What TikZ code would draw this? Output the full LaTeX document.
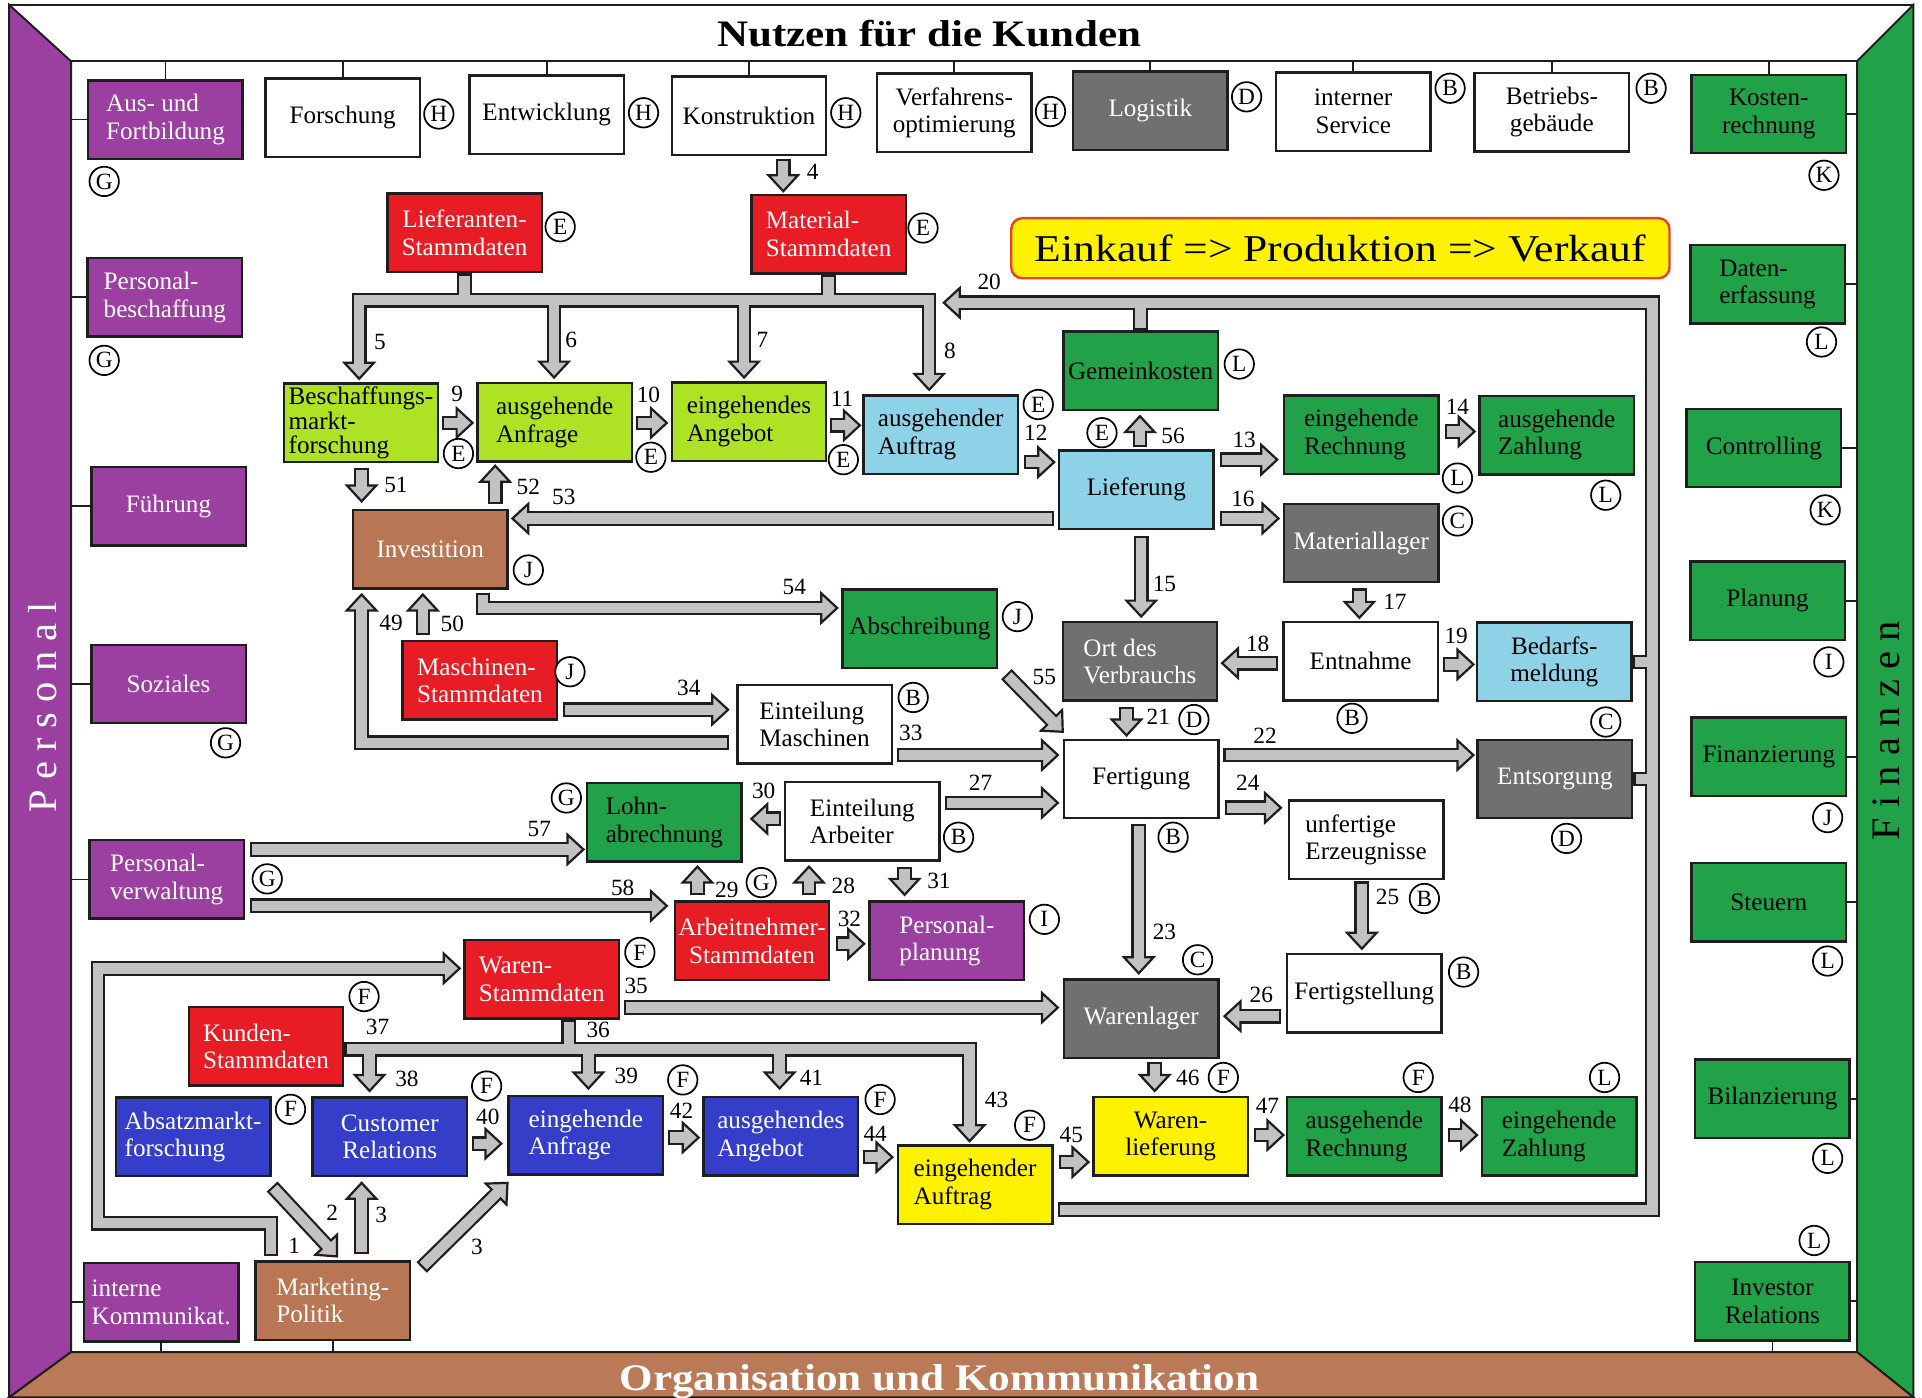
\documentclass[tikz,border=0pt]{standalone}
\usepackage{fontspec}
\setmainfont{Liberation Serif}
\newfontfamily\ttlfont{Liberation Serif}[FakeStretch=1.15]
\usetikzlibrary{calc}
\definecolor{cpurple}{RGB}{155,64,160}
\definecolor{cgreen}{RGB}{34,162,72}
\definecolor{clime}{RGB}{174,226,36}
\definecolor{clblue}{RGB}{142,210,232}
\definecolor{cred}{RGB}{232,28,36}
\definecolor{cbrown}{RGB}{184,118,84}
\definecolor{cband}{RGB}{186,122,88}
\definecolor{cdgray}{RGB}{112,112,112}
\definecolor{cblue}{RGB}{52,62,200}
\definecolor{cyellow}{RGB}{255,242,0}
\definecolor{agray}{RGB}{194,194,194}
\definecolor{cline}{RGB}{30,30,30}
\definecolor{corange}{RGB}{226,70,30}
\newcommand\boxfont{\fontsize{20.5}{22.5}\selectfont}
\tikzset{
  bx/.style={draw=cline, line width=2pt, minimum width=126pt, minimum height=64pt, inner xsep=1pt, inner ysep=2pt, font=\boxfont, align=center},
  wh/.style={bx, fill=white},
  pu/.style={bx, fill=cpurple, text=white},
  gr/.style={bx, fill=cgreen, text=black},
  li/.style={bx, fill=clime},
  lb/.style={bx, fill=clblue},
  rd/.style={bx, fill=cred, text=white},
  br/.style={bx, fill=cbrown, text=white},
  dg/.style={bx, fill=cdgray, text=white},
  bl/.style={bx, fill=cblue, text=white},
  ye/.style={bx, fill=cyellow},
  lft/.style={align=left},
  cl/.style={circle, draw=black, line width=1.4pt, fill=white, minimum size=24pt, inner sep=0pt, font=\fontsize{19}{19}\selectfont},
  num/.style={inner sep=0pt, font=\fontsize{19}{19}\selectfont},
  cn/.style={draw=cline, line width=1.6pt},
  shB/.style={line width=12pt, draw=cline, line join=miter, line cap=butt},
  shG/.style={line width=8.4pt, draw=agray, line join=miter, line cap=butt},
  hd/.style={fill=agray, draw=cline, line width=1.8pt, line join=miter},
}
\newcommand\ahead[2]{%
  \coordinate (ae) at #1; \coordinate (ap) at #2;
  \coordinate (ahB) at ($(ae)!13pt!(ap)$);
  \filldraw[hd] ($(ahB)!12pt!90:(ae)$) -- (ae) -- ($(ahB)!12pt!-90:(ae)$) -- cycle;}
\newcommand\parrow[3]{%
  \coordinate (ap) at #2; \coordinate (ae) at #3;
  \coordinate (ahB) at ($(ae)!13pt!(ap)$);
  \coordinate (ahG) at ($(ae)!11pt!(ap)$);
  \draw[shB] #1 -- (ahB);
  \filldraw[hd] ($(ahB)!12pt!90:(ae)$) -- (ae) -- ($(ahB)!12pt!-90:(ae)$) -- cycle;
  \draw[shG, shorten <=1.8pt] #1 -- (ahG);}
\newcommand\sarrow[2]{\parrow{#1}{#1}{#2}}
\begin{document}
\begin{tikzpicture}[x=1pt,y=-1pt]
\fill[white] (0,0) rectangle (1568,1140);
\useasboundingbox (0,0) rectangle (1568,1140);
% frame
\draw[cn] (7.5,4) -- (1561,4);
\draw[cn] (58,50) -- (1515,50);
\filldraw[fill=cpurple, draw=cline, line width=1.6pt] (7.5,4) -- (58,50) -- (58,1103) -- (7.5,1140) -- cycle;
\filldraw[fill=cgreen, draw=cline, line width=1.6pt] (1561,4) -- (1561,1140) -- (1515,1103) -- (1515,50) -- cycle;
\filldraw[fill=cband, draw=cline, line width=1.6pt] (58,1103) -- (1515,1103) -- (1561,1140) -- (7.5,1140) -- cycle;
\coordinate (topline) at (0,50);
\coordinate (leftline) at (58,0);
\coordinate (rightline) at (1515,0);
\coordinate (botline) at (0,1103);
\node[font=\ttlfont\bfseries\fontsize{30.5}{34}\selectfont, anchor=base] (ttop) at (758,38) {Nutzen für die Kunden};
\node[font=\ttlfont\bfseries\fontsize{30.6}{34}\selectfont, text=white, anchor=base] (tbot) at (766.5,1134) {Organisation und Kommunikation};
\node[rotate=90, text=white, font=\fontsize{33}{33}\selectfont] (tpers) at (34.5,577) {P e r s o n a l};
\node[rotate=90, text=black, font=\fontsize{33}{33}\selectfont] (tfin) at (1538.5,596) {F i n a n z e n};

% top row
\node[pu, lft] (ausfort) at (135,97.5) {Aus- und\\Fortbildung};
\node[wh] (forsch) at (279.5,96) {Forschung};
\node[wh] (entw) at (446,93.5) {Entwicklung};
\node[wh] (konstr) at (611,94.5) {Konstruktion};
\node[wh] (verf) at (778.5,92) {Verfahrens-\\optimierung};
\node[dg] (logist) at (938.5,90.5) {Logistik};
\node[wh] (intserv) at (1104,91) {interner\\Service};
\node[wh] (betrgeb) at (1266,91.5) {Betriebs-\\gebäude};
\node[gr] (kostenr) at (1443,93) {Kosten-\\rechnung};
% left column
\node[pu, lft] (persbesch) at (134.5,242.5) {Personal-\\beschaffung};
\node[pu] (fuehr) at (137.5,413) {Führung};
\node[pu] (soz) at (137.5,558) {Soziales};
\node[pu, lft] (persverw) at (136,717.5) {Personal-\\verwaltung};
\node[pu, lft] (intkomm) at (131.5,1062.5) {interne\\Kommunikat.};
\node[br, lft] (marketing) at (271.5,1061) {Marketing-\\Politik};
% right column
\node[gr, lft] (datenerf) at (1442,232) {Daten-\\erfassung};
\node[gr] (controlling) at (1439,365.5) {Controlling};
\node[gr] (planung) at (1442,490) {Planung};
\node[gr] (finanz) at (1443,617.5) {Finanzierung};
\node[gr] (steuern) at (1443,736) {Steuern};
\node[gr] (bilanz) at (1446,896.5) {Bilanzierung};
\node[gr] (investor) at (1446,1061.5) {Investor\\Relations};
% connection lines
\foreach \n in {ausfort,forsch,entw,konstr,verf,logist,intserv,betrgeb,kostenr}
  \draw[cn] (\n.north) -- (\n.north |- topline);
\foreach \n in {ausfort,persbesch,fuehr,soz,persverw,intkomm}
  \draw[cn] (\n.west) -- (\n.west -| leftline);
\foreach \n in {kostenr,datenerf,controlling,planung,finanz,steuern,bilanz,investor}
  \draw[cn] (\n.east) -- (\n.east -| rightline);
\foreach \n in {intkomm,marketing,investor}
  \draw[cn] (\n.south) -- (\n.south |- botline);

% process
\node[draw=corange, line width=2pt, fill=cyellow, rounded corners=9pt, minimum width=537pt, minimum height=49pt, inner sep=0pt, font=\ttlfont\fontsize{30.9}{34}\selectfont] (ekv) at (1093.5,202.5) {Einkauf => Produktion => Verkauf};
\node[rd] (lieferant) at (379,190) {Lieferanten-\\Stammdaten};
\node[rd, lft] (material) at (676,191) {Material-\\Stammdaten};
\node[li, lft, font=\fontsize{20.5}{20}\selectfont] (beschmf) at (294.5,345) {Beschaffungs-\\markt-\\forschung};
\node[li, lft] (ausganfr) at (452.5,344.5) {ausgehende\\Anfrage};
\node[li, lft] (eingang) at (611,344) {eingehendes\\Angebot};
\node[lb, lft] (ausgauftr) at (767.5,354.5) {ausgehender\\Auftrag};
\node[gr] (gemeink) at (930.5,302.5) {Gemeinkosten};
\node[lb] (liefer) at (927,399.5) {Lieferung};
\node[gr, lft] (eingrech) at (1110.5,354.5) {eingehende\\Rechnung};
\node[gr, lft] (ausgzahl) at (1270,355) {ausgehende\\Zahlung};
\node[dg] (matlager) at (1110.5,443) {Materiallager};
\node[br] (invest) at (351,448) {Investition};
\node[gr] (abschr) at (750.5,513) {Abschreibung};
\node[dg, lft] (ortverb) at (930,539.5) {Ort des\\Verbrauchs};
\node[wh] (entnahme) at (1110,539.5) {Entnahme};
\node[lb] (bedarf) at (1268,540) {Bedarfs-\\meldung};
\node[wh] (fertigung) at (931,635.5) {Fertigung};
\node[dg] (entsorg) at (1268.5,635.5) {Entsorgung};
\node[wh, lft] (unfertig) at (1114.5,685) {unfertige\\Erzeugnisse};
\node[wh] (fertigst) at (1113,810.5) {Fertigstellung};
\node[dg] (warenlager) at (931,831) {Warenlager};
\node[ye] (warenlief) at (955,927) {Waren-\\lieferung};
\node[gr, lft] (ausgrech) at (1113,927) {ausgehende\\Rechnung};
\node[gr, lft] (eingzahl) at (1272,927) {eingehende\\Zahlung};
\node[rd, lft] (maschst) at (391.5,555) {Maschinen-\\Stammdaten};
\node[wh, lft] (eintmasch) at (664.5,591) {Einteilung\\Maschinen};
\node[wh, lft] (eintarb) at (703.5,670) {Einteilung\\Arbeiter};
\node[gr, lft] (lohn) at (542,671) {Lohn-\\abrechnung};
\node[rd] (arbst) at (613.5,767.5) {Arbeitnehmer-\\Stammdaten};
\node[pu, lft] (persplan) at (772.5,767.5) {Personal-\\planung};
\node[rd, lft] (warenst) at (442,799) {Waren-\\Stammdaten};
\node[rd, lft] (kundenst) at (217,853.5) {Kunden-\\Stammdaten};
\node[bl, lft] (absatz) at (157.5,927.5) {Absatzmarkt-\\forschung};
\node[bl] (custrel) at (318,927.5) {Customer\\Relations};
\node[bl, lft] (einganfr) at (478,926) {eingehende\\Anfrage};
\node[bl, lft] (ausgang) at (637,927) {ausgehendes\\Angebot};
\node[ye, lft] (eingauftr) at (795.5,966.5) {eingehender\\Auftrag};

% ---- group 5-8
\coordinate (b58) at (0,245);
\coordinate (t5) at ($(beschmf.north)+(-1.5,-3)$);
\coordinate (t6) at ($(ausganfr.north)+(-0.5,-3.5)$);
\coordinate (t7) at ($(eingang.north)+(-4,-3)$);
\coordinate (t8) at ($(ausgauftr.north)+(-9.5,-3.5)$);
\draw[shB] ($(t5)+(0,-13)$) -- (t5 |- b58) -- (t8 |- b58) -- ($(t8)+(0,-13)$);
\draw[shB] (t6 |- b58) -- ($(t6)+(0,-13)$);
\draw[shB] (t7 |- b58) -- ($(t7)+(0,-13)$);
\draw[shB] (lieferant.south) -- (lieferant.south |- b58);
\draw[shB] (material.south) -- (material.south |- b58);
\ahead{(t5)}{(t5 |- b58)}
\ahead{(t6)}{(t6 |- b58)}
\ahead{(t7)}{(t7 |- b58)}
\ahead{(t8)}{(t8 |- b58)}
\draw[shG] ($(t5)+(0,-11)$) -- (t5 |- b58) -- (t8 |- b58) -- ($(t8)+(0,-11)$);
\draw[shG] (t6 |- b58) -- ($(t6)+(0,-11)$);
\draw[shG] (t7 |- b58) -- ($(t7)+(0,-11)$);
\draw[shG, shorten <=1.8pt] (lieferant.south) -- (lieferant.south |- b58);
\draw[shG, shorten <=1.8pt] (material.south) -- (material.south |- b58);

% ---- group 20
\coordinate (s20) at ($(eingauftr.east)+(3.5,20.5)$);
\coordinate (c20) at (1348,987);
\coordinate (d20) at (1348,247);
\coordinate (t20) at (770,247);
\draw[shB] (s20) -- (c20) -- (d20) -- ($(t20)+(13,0)$);
\draw[shB] (gemeink.north) -- (gemeink.north |- d20);
\draw[shB] (bedarf.east) -- (bedarf.east -| d20);
\draw[shB] (entsorg.east) -- (entsorg.east -| d20);
\ahead{(t20)}{(d20)}
\draw[shG, shorten <=1.8pt] (s20) -- (c20) -- (d20) -- ($(t20)+(11,0)$);
\draw[shG, shorten <=1.8pt] (gemeink.north) -- (gemeink.north |- d20);
\draw[shG, shorten <=1.8pt] (bedarf.east) -- (bedarf.east -| d20);
\draw[shG, shorten <=1.8pt] (entsorg.east) -- (entsorg.east -| d20);

% ---- group 36-43
\coordinate (b36) at (0,856);
\coordinate (t38) at ($(custrel.north)+(-16.5,-4.5)$);
\coordinate (t39) at ($(einganfr.north)+(2,-5)$);
\coordinate (t41) at ($(ausgang.north)+(-1,-6)$);
\coordinate (t43) at ($(eingauftr.north)+(-4.5,-2.5)$);
\coordinate (ws) at ($(warenst.south)+(22,0)$);
\draw[shB] (kundenst.east |- b36) -- (t43 |- b36) -- ($(t43)+(0,-13)$);
\draw[shB] (t38 |- b36) -- ($(t38)+(0,-13)$);
\draw[shB] (t39 |- b36) -- ($(t39)+(0,-13)$);
\draw[shB] (t41 |- b36) -- ($(t41)+(0,-13)$);
\draw[shB] (ws) -- (ws |- b36);
\ahead{(t38)}{(t38 |- b36)}
\ahead{(t39)}{(t39 |- b36)}
\ahead{(t41)}{(t41 |- b36)}
\ahead{(t43)}{(t43 |- b36)}
\draw[shG, shorten <=1.8pt] (kundenst.east |- b36) -- (t43 |- b36) -- ($(t43)+(0,-11)$);
\draw[shG] (t38 |- b36) -- ($(t38)+(0,-11)$);
\draw[shG] (t39 |- b36) -- ($(t39)+(0,-11)$);
\draw[shG] (t41 |- b36) -- ($(t41)+(0,-11)$);
\draw[shG, shorten <=1.8pt] (ws) -- (ws |- b36);

% ---- bent arrows
\parrow{($(marketing.north)+(-50.5,-3)$) -- (221,998) -- (80,998) -- (80,790)}{(80,790)}{($(warenst.west)+(-3,-9)$)}
\parrow{($(eintmasch.west)+(-5.5,15)$) -- (295,606)}{(295,606)}{($(invest.south)+(-56,4)$)}
\parrow{($(invest.south)+(43,3)$) -- (394,496)}{(394,496)}{($(abschr.west)+(-3.5,-17)$)}

% ---- straight arrows
\sarrow{($(konstr.south)+(28,2)$)}{($(material.north)+(-37,-2)$)}
\sarrow{($(beschmf.east)+(2,0)$)}{($(ausganfr.west)+(-3,0.5)$)}
\sarrow{($(ausganfr.east)+(2,0.5)$)}{($(eingang.west)+(-3,1)$)}
\sarrow{($(eingang.east)+(2,3)$)}{($(ausgauftr.west)+(-2,-7.5)$)}
\sarrow{($(ausgauftr.east)+(3.5,22.5)$)}{($(liefer.west)+(-3,-22.5)$)}
\sarrow{($(liefer.east)+(4,-24.5)$)}{($(eingrech.west)+(-4.5,20.5)$)}
\sarrow{($(eingrech.east)+(4.5,-2.5)$)}{($(ausgzahl.west)+(-3,-3)$)}
\sarrow{($(liefer.east)+(4,23.5)$)}{($(matlager.west)+(-3.5,-20)$)}
\sarrow{($(liefer.north)+(3,-2)$)}{($(gemeink.south)+(-0.5,4)$)}
\sarrow{($(liefer.south)+(4,4.5)$)}{($(ortverb.north)+(1,-3.5)$)}
\sarrow{($(matlager.south)+(-1.5,4)$)}{($(entnahme.north)+(-1,-2.5)$)}
\sarrow{($(entnahme.west)+(-3,1.5)$)}{($(ortverb.east)+(3,1.5)$)}
\sarrow{($(entnahme.east)+(3,2.5)$)}{($(bedarf.west)+(-2,2)$)}
\sarrow{($(ortverb.south)+(-11,4.5)$)}{($(fertigung.north)+(-12,-2.5)$)}
\sarrow{($(fertigung.east)+(3,-19.5)$)}{($(entsorg.west)+(-2.5,-19.5)$)}
\sarrow{($(fertigung.east)+(4,23.5)$)}{($(unfertig.west)+(-5.5,-26)$)}
\sarrow{($(unfertig.south)+(-3.5,1)$)}{($(fertigst.north)+(-2,-3.5)$)}
\sarrow{($(fertigst.west)+(-4,18.5)$)}{($(warenlager.east)+(4,-2)$)}
\sarrow{($(fertigung.south)+(-2,3.5)$)}{($(warenlager.north)+(-2,-4)$)}
\sarrow{($(warenlager.south)+(11,2)$)}{($(warenlief.north)+(-13,-4)$)}
\sarrow{($(warenlief.east)+(4,-1)$)}{($(ausgrech.west)+(-2,-1)$)}
\sarrow{($(ausgrech.east)+(4,-1)$)}{($(eingzahl.west)+(-3,-1)$)}
\sarrow{($(beschmf.south)+(0.5,4)$)}{($(invest.north)+(-56,-6)$)}
\sarrow{($(invest.north)+(53,-4)$)}{($(ausganfr.south)+(-48.5,2.5)$)}
\sarrow{($(liefer.west)+(-3,23.5)$)}{($(invest.east)+(3,-25)$)}
\sarrow{($(maschst.north)+(-46.5,-4)$)}{($(invest.south)+(-6,4)$)}
\sarrow{($(maschst.east)+(3.5,24)$)}{($(eintmasch.west)+(-6.5,-12)$)}
\sarrow{($(eintmasch.east)+(3.5,25)$)}{($(fertigung.west)+(-4,-19.5)$)}
\sarrow{($(abschr.south east)+(6.5,4)$)}{($(fertigung.north west)+(0,-5.5)$)}
\sarrow{($(eintarb.east)+(3.5,-15)$)}{($(fertigung.west)+(-4,19.5)$)}
\sarrow{($(eintarb.west)+(-2.5,-2)$)}{($(lohn.east)+(7,-3)$)}
\sarrow{($(persverw.east)+(4,-24.5)$)}{($(lohn.west)+(-2,22)$)}
\sarrow{($(persverw.east)+(4,21.5)$)}{($(arbst.west)+(-5.5,-28.5)$)}
\sarrow{($(arbst.north)+(-44.5,-4.5)$)}{($(lohn.south)+(27,3)$)}
\sarrow{($(arbst.north)+(46.5,-4.5)$)}{($(eintarb.south)+(-43.5,4)$)}
\sarrow{($(eintarb.south)+(34.5,4)$)}{($(persplan.north)+(-34.5,-4.5)$)}
\sarrow{($(arbst.east)+(4.5,2.5)$)}{($(persplan.west)+(-3.5,2.5)$)}
\sarrow{($(warenst.east)+(3,23)$)}{($(warenlager.west)+(-4,-9)$)}
\sarrow{($(custrel.east)+(3,5.5)$)}{($(einganfr.west)+(-5,7)$)}
\sarrow{($(einganfr.east)+(3,2)$)}{($(ausgang.west)+(-3,1)$)}
\sarrow{($(ausgang.east)+(3,17)$)}{($(eingauftr.west)+(-3.5,-22.5)$)}
\sarrow{($(eingauftr.east)+(4.5,-18.5)$)}{($(warenlief.west)+(-3,21)$)}
\sarrow{($(absatz.south east)+(0.5,7.5)$)}{($(marketing.north)+(3.5,-3)$)}
\sarrow{($(marketing.north)+(23.5,-5)$)}{($(custrel.south)+(-23,4.5)$)}
\sarrow{($(marketing.north east)+(8.5,6)$)}{($(einganfr.south west)+(0,6)$)}

% ---- number labels
\node[num] (n1) at (240,1016) {1};
\node[num] (n2) at (271,989) {2};
\node[num] (n3a) at (311,991) {3};
\node[num] (n3b) at (389,1017) {3};
\node[num] (n4) at (663,140) {4};
\node[num] (n5) at (310,279) {5};
\node[num] (n6) at (466,277) {6};
\node[num] (n7) at (622,277) {7};
\node[num] (n8) at (775,286) {8};
\node[num] (n9) at (373,321) {9};
\node[num] (n10) at (529,322) {10};
\node[num] (n11) at (687,325) {11};
\node[num] (n12) at (845,353) {12};
\node[num] (n13) at (1015,359) {13};
\node[num] (n14) at (1189,332) {14};
\node[num] (n15) at (950,476) {15};
\node[num] (n16) at (1014,407) {16};
\node[num] (n17) at (1138,491) {17};
\node[num] (n18) at (1026,525) {18};
\node[num] (n19) at (1188,519) {19};
\node[num] (n20) at (807,230) {20};
\node[num] (n21) at (945,585) {21};
\node[num] (n22) at (1032,600) {22};
\node[num] (n23) at (950,760) {23};
\node[num] (n24) at (1018,639) {24};
\node[num] (n25) at (1132,732) {25};
\node[num] (n26) at (1029,812) {26};
\node[num] (n27) at (800,639) {27};
\node[num] (n28) at (688,723) {28};
\node[num] (n29) at (593,726) {29};
\node[num] (n30) at (623,645) {30};
\node[num] (n31) at (766,719) {31};
\node[num] (n32) at (693,750) {32};
\node[num] (n33) at (743,598) {33};
\node[num] (n34) at (562,561) {34};
\node[num] (n35) at (519,804) {35};
\node[num] (n36) at (488,840) {36};
\node[num] (n37) at (308,838) {37};
\node[num] (n38) at (332,880) {38};
\node[num] (n39) at (511,878) {39};
\node[num] (n40) at (398,911) {40};
\node[num] (n41) at (662,879) {41};
\node[num] (n42) at (556,906) {42};
\node[num] (n43) at (813,897) {43};
\node[num] (n44) at (714,925) {44};
\node[num] (n45) at (874,926) {45};
\node[num] (n46) at (969,879) {46};
\node[num] (n47) at (1034,902) {47};
\node[num] (n48) at (1191,901) {48};
\node[num] (n49) at (319,508) {49};
\node[num] (n50) at (369,509) {50};
\node[num] (n51) at (323,396) {51};
\node[num] (n52) at (431,397) {52};
\node[num] (n53) at (460,405) {53};
\node[num] (n54) at (648,479) {54};
\node[num] (n55) at (852,552) {55};
\node[num] (n56) at (957,356) {56};
\node[num] (n57) at (440,676) {57};
\node[num] (n58) at (508,724) {58};

% ---- circled letters
\node[cl] (cG1) at (85,148) {G};
\node[cl] (cH1) at (358,93) {H};
\node[cl] (cH2) at (525,92) {H};
\node[cl] (cH3) at (690,92) {H};
\node[cl] (cH4) at (857,91) {H};
\node[cl] (cD1) at (1017,79) {D};
\node[cl] (cB1) at (1183,72) {B};
\node[cl] (cB2) at (1347,72) {B};
\node[cl] (cK1) at (1488,143) {K};
\node[cl] (cG2) at (85,294) {G};
\node[cl] (cG3) at (184,606) {G};
\node[cl] (cG4) at (218,717) {G};
\node[cl] (cL1) at (1486,279) {L};
\node[cl] (cK2) at (1489,416) {K};
\node[cl] (cI1) at (1492,540) {I};
\node[cl] (cJ1) at (1491,667) {J};
\node[cl] (cL2) at (1491,784) {L};
\node[cl] (cL3) at (1491,945) {L};
\node[cl] (cL4) at (1480,1012) {L};
\node[cl] (cE1) at (457,185) {E};
\node[cl] (cE2) at (753,186) {E};
\node[cl] (cE3) at (374,370) {E};
\node[cl] (cE4) at (531,373) {E};
\node[cl] (cE5) at (688,375) {E};
\node[cl] (cE6) at (847,330) {E};
\node[cl] (cL5) at (1011,297) {L};
\node[cl] (cE7) at (899,353) {E};
\node[cl] (cL6) at (1189,390) {L};
\node[cl] (cL7) at (1310,404) {L};
\node[cl] (cC1) at (1189,425) {C};
\node[cl] (cJ2) at (431,465) {J};
\node[cl] (cJ3) at (830,503) {J};
\node[cl] (cJ4) at (465,548) {J};
\node[cl] (cB3) at (745,569) {B};
\node[cl] (cD2) at (974,587) {D};
\node[cl] (cB4) at (1103,586) {B};
\node[cl] (cC2) at (1310,589) {C};
\node[cl] (cD3) at (1278,684) {D};
\node[cl] (cB5) at (957,683) {B};
\node[cl] (cG5) at (462,651) {G};
\node[cl] (cB6) at (782,683) {B};
\node[cl] (cG6) at (621,720) {G};
\node[cl] (cI2) at (852,750) {I};
\node[cl] (cB7) at (1162,733) {B};
\node[cl] (cB8) at (1194,793) {B};
\node[cl] (cC3) at (977,783) {C};
\node[cl] (cF1) at (998,879) {F};
\node[cl] (cF2) at (1157,879) {F};
\node[cl] (cL8) at (1309,879) {L};
\node[cl] (cF3) at (522,777) {F};
\node[cl] (cF4) at (297,813) {F};
\node[cl] (cF5) at (237,905) {F};
\node[cl] (cF6) at (397,886) {F};
\node[cl] (cF7) at (557,881) {F};
\node[cl] (cF8) at (718,897) {F};
\node[cl] (cF9) at (840,918) {F};
\end{tikzpicture}
\end{document}
